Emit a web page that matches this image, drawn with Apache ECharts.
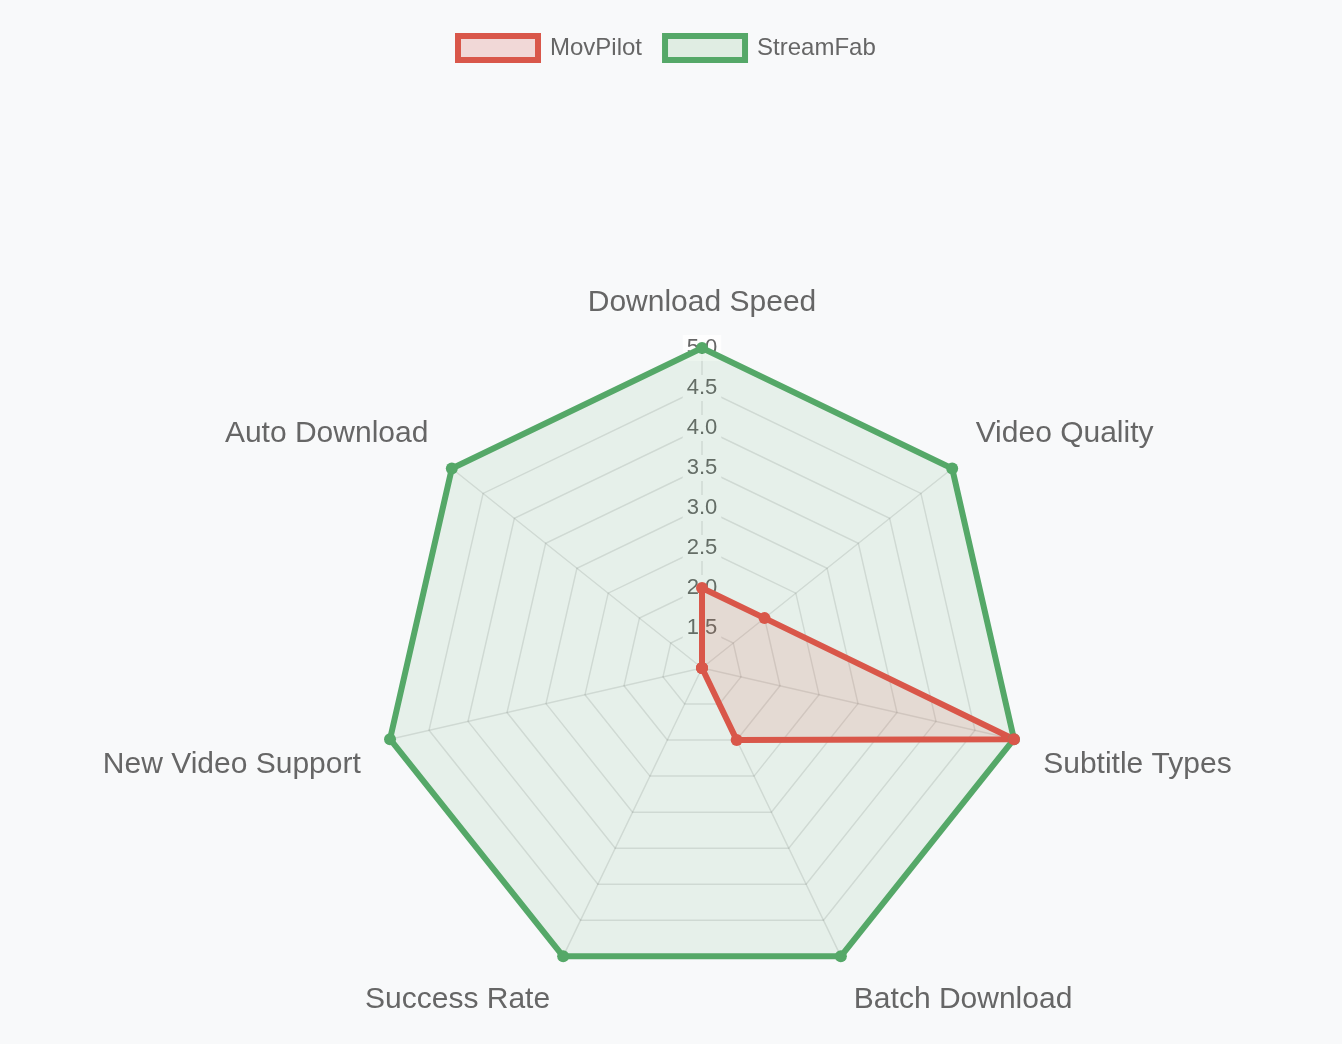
<!DOCTYPE html>
<html>
<head>
<meta charset="utf-8">
<title>MovPilot vs StreamFab</title>
<script src="https://cdn.jsdelivr.net/npm/echarts@6/dist/echarts.min.js"></script>
<style>
  html, body { margin: 0; padding: 0; background: #f8f9fa; }
  #chart { width: 1342px; height: 1044px; }
</style>
</head>
<body>
<div id="chart"></div>
<script>
// categories listed clockwise from the top, as in the picture
const categories = [
  "Download Speed",
  "Video Quality",
  "Subtitle Types",
  "Batch Download",
  "Success Rate",
  "New Video Support",
  "Auto Download",
];
const movPilotScores = [2, 2, 5, 2, 1, 1, 1];
const streamFabScores = [5, 5, 5, 5, 5, 5, 5];
const scaleMin = 1;
const scaleMax = 5;
const tickStep = 0.5;

const RED = "#d9574a";
const GREEN = "#55a868";
const GREEN_FILL = "rgba(85,168,104,0.15)";
const RED_FILL = "rgba(217,87,74,0.2)";
const FONT = "'Liberation Sans', Arial, Helvetica, sans-serif";

// echarts lays radar indicators out counter-clockwise, so walk the list backwards after the first one
const order = [0].concat(categories.slice(1).map((c, i) => categories.length - 1 - i));

// which rich style each point label gets (shifts it up or down a bit)
function nameStyle(i) {
  if (i === 0) return "top";
  if (i === 1 || i === 6) return "up";
  if (i === 2 || i === 5) return "side";
  return "down";
}

const nameBase = { color: "#666", fontSize: 30, fontFamily: FONT };

const indicators = order.map((idx) => {
  const ind = { name: categories[idx], min: scaleMin, max: scaleMax };
  // only the first (top) spoke carries the tick labels
  ind.axisLabel = { show: idx === 0 };
  return ind;
});

const chart = echarts.init(document.getElementById("chart"), null, { renderer: "canvas" });

const option = {
  backgroundColor: "#f8f9fa",
  animation: false,
  legend: {
    top: 28,
    left: 450,
    itemWidth: 80,
    itemHeight: 24,
    itemGap: 20,
    textStyle: { color: "#666", fontSize: 24, fontFamily: FONT, padding: [0, 0, 0, 7] },
    data: [
      {
        name: "MovPilot",
        icon: "rect",
        itemStyle: { color: RED_FILL, borderColor: RED, borderWidth: 6 },
      },
      {
        name: "StreamFab",
        icon: "rect",
        itemStyle: { color: GREEN_FILL, borderColor: GREEN, borderWidth: 6 },
      },
    ],
  },
  radar: {
    center: [702, 668],
    radius: 320,
    startAngle: 90,
    shape: "polygon",
    splitNumber: Math.round((scaleMax - scaleMin) / tickStep),
    nameGap: 30,
    axisName: {
      color: "#666",
      fontSize: 30,
      fontFamily: FONT,
      formatter: (name) => `{${nameStyle(categories.indexOf(name))}|${name}}`,
      rich: {
        top: Object.assign({}, nameBase),
        up: Object.assign({ padding: [0, 0, 32, 0] }, nameBase),
        side: Object.assign({ padding: [38, 0, 0, 0] }, nameBase),
        down: Object.assign({ padding: [32, 0, 0, 0] }, nameBase),
      },
    },
    axisLine: { lineStyle: { color: "rgba(0,0,0,0.1)", width: 1.5 } },
    splitLine: { lineStyle: { color: "rgba(0,0,0,0.1)", width: 1.5 } },
    splitArea: { show: false },
    axisTick: { show: false },
    axisLabel: {
      show: false,
      showMinLabel: false,
      margin: 0,
      align: "center",
      verticalAlign: "middle",
      formatter: (v) => (Number(v) >= scaleMax ? "{edge|" : "{tick|") + Number(v).toFixed(1) + "}",
      rich: {
        tick: {
          color: "#666",
          fontSize: 22,
          fontFamily: FONT,
          backgroundColor: "#f8f9fa",
          padding: [2, 4],
        },
        edge: {
          color: "#666",
          fontSize: 22,
          fontFamily: FONT,
          backgroundColor: "rgba(255,255,255,0.8)",
          padding: [2, 4],
        },
      },
    },
    indicator: indicators,
  },
  series: [
    {
      type: "radar",
      symbol: "circle",
      symbolSize: 12,
      data: [
        {
          name: "StreamFab",
          value: order.map((i) => streamFabScores[i]),
          itemStyle: { color: GREEN },
          lineStyle: { color: GREEN, width: 6 },
          areaStyle: { color: GREEN_FILL },
        },
        {
          name: "MovPilot",
          value: order.map((i) => movPilotScores[i]),
          itemStyle: { color: RED },
          lineStyle: { color: RED, width: 6 },
          areaStyle: { color: RED_FILL },
        },
      ],
    },
  ],
};

chart.setOption(option);
</script>
</body>
</html>
